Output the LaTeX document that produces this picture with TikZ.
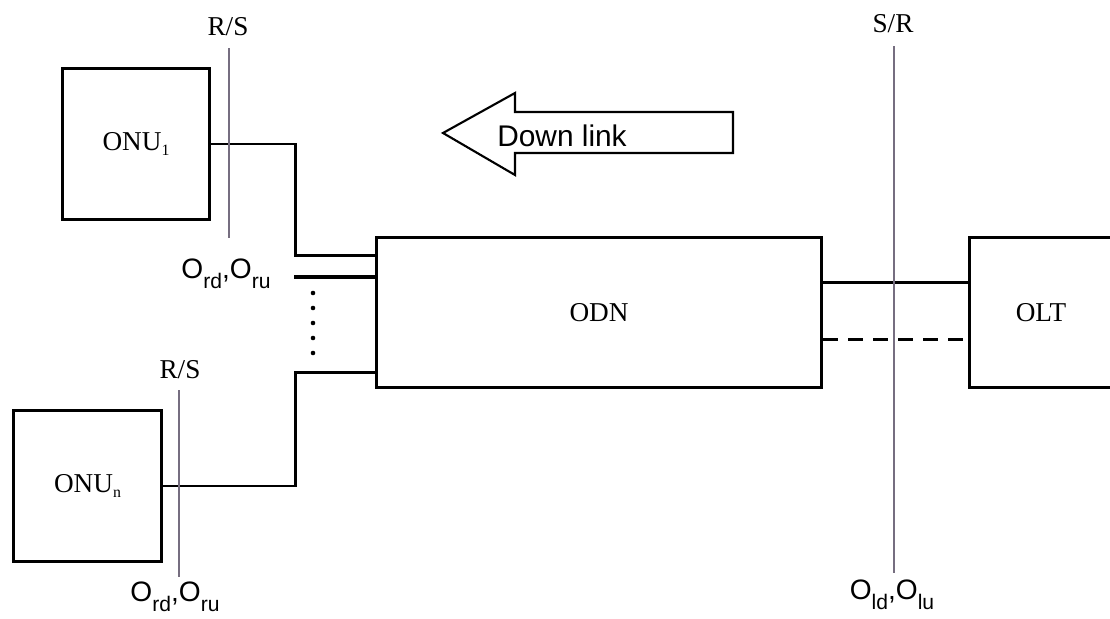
\documentclass[tikz,border=0pt]{standalone}
\usepackage{fontspec}
\setmainfont{Liberation Serif}
\setsansfont{Liberation Sans}
\usepackage{xcolor}
\usetikzlibrary{positioning,calc}

\definecolor{refgray}{RGB}{118,110,128}
\newcommand{\lowsub}[1]{\raisebox{-6pt}{\fontsize{12}{12}\selectfont #1}}
\newcommand{\boxsub}[1]{\raisebox{-3pt}{\fontsize{9}{9}\selectfont #1}}

\tikzset{
    unit/.style={draw, line width=1.7pt, font=\fontsize{15.5}{18}\selectfont},
    link/.style={line width=1.5pt},
    refline/.style={draw=refgray, line width=0.8pt},
    refname/.style={anchor=base, font=\fontsize{15.5}{18}\selectfont},
    plabel/.style={anchor=base, inner sep=0pt, font=\sffamily\fontsize{16}{18}\selectfont}
}

\begin{document}
\begin{tikzpicture}[x=0.02cm, y=-0.02cm]
    \useasboundingbox (0,0) rectangle (1110,619);

    % Boxes
    \node[unit, minimum width=2.96cm, minimum height=3.04cm] (onu1) at (136,144) {ONU\boxsub{1}};
    \node[unit, minimum width=2.98cm, minimum height=3.04cm] (onun) at (87.5,486) {ONU\boxsub{n}};
    \node[unit, minimum width=8.92cm, minimum height=3.02cm] (odn) at (599,312.5) {ODN};
    \node[unit, minimum width=2.88cm, minimum height=3.02cm] (olt) at (1041,312.5) {OLT};

    % Fibres from the ONUs to the ODN
    \draw[link] (onu1.east) -- ++(84,0) |- ($(odn.north west)+(0,20)$);
    \draw[link] (onun.east) -- ++(132,0) |- ($(odn.south west)+(0,-17)$);
    \coordinate (stub) at (294,277);
    \draw[line width=2.4pt] (stub) -- (stub -| odn.west);
    \foreach \y in {293,308,323,338,353} {
        \fill (313,\y) circle (1.3pt);
    }

    % Fibres from the ODN to the OLT
    \draw[link] ($(odn.north east)+(0,47)$) -- ($(olt.north west)+(0,47)$);
    \draw[link, dash pattern=on 8.5pt off 5.7pt] ($(odn.north east)+(0,104)$) -- ($(olt.north west)+(0,104)$);

    % Reference points
    \coordinate (rs1top) at (229,48);
    \coordinate (rs1bot) at (229,238);
    \coordinate (rs2top) at (179,390);
    \coordinate (rs2bot) at (179,577);
    \coordinate (srtop) at (894,46);
    \coordinate (srbot) at (894,573);
    \draw[refline] (rs1top) -- (rs1bot);
    \draw[refline] (rs2top) -- (rs2bot);
    \draw[refline] (srtop) -- (srbot);

    % Labels
    \node[refname] (rs1) at (228,35) {R/S};
    \node[refname] (rs2) at (180,378) {R/S};
    \node[refname] (sr) at (893,32) {S/R};
    \node[plabel] (orr1) at (226,278) {O\lowsub{rd},O\lowsub{ru}};
    \node[plabel] (orr2) at (175,601) {O\lowsub{rd},O\lowsub{ru}};
    \node[plabel] (oll) at (892,599) {O\lowsub{ld},O\lowsub{lu}};

    % Direction arrow
    \draw[line width=1.2pt, line join=miter] (443,133) -- (515,93) -- (515,112) -- (733,112)
        -- (733,153) -- (515,153) -- (515,175) -- cycle;
    \node[plabel, font=\sffamily\fontsize{17}{19}\selectfont] (down) at (562,146) {Down link};
\end{tikzpicture}
\end{document}
